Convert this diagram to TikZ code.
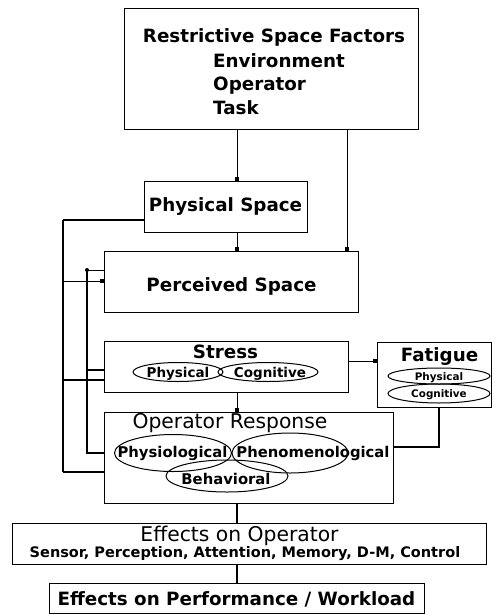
\documentclass[tikz,border=0pt]{standalone}
\usepackage{fontspec}
\setmainfont{DejaVu Sans}
\usetikzlibrary{arrows.meta,shapes.geometric}
\begin{document}
\begin{tikzpicture}[x=1pt,y=-1pt,
  box/.style={draw,line width=1pt,inner sep=0pt},
  ell/.style={draw,ellipse,line width=1pt,inner sep=0pt},
  lbl/.style={anchor=base,inner sep=0pt},
  lblw/.style={anchor=base west,inner sep=0pt},
  conn/.style={line width=1pt,-{Square[length=3.5pt,width=4pt]}},
  heavy/.style={line width=2.5pt},
  mid/.style={line width=1.8pt},
  fbig/.style={font=\fontsize{18.3}{20}\selectfont\bfseries},
  freg/.style={font=\fontsize{20.3}{22}\selectfont},
  fsub/.style={font=\fontsize{14.5}{16}\selectfont\bfseries},
  fell/.style={font=\fontsize{14.8}{16}\selectfont\bfseries},
  fsm/.style={font=\fontsize{10.4}{12}\selectfont\bfseries}]
\fill[white] (0,0) rectangle (492,614);
\useasboundingbox (0,0) rectangle (492,614);
% boxes
\node[box,minimum width=294pt,minimum height=121pt] (top) at (271,68.5) {};
\node[box,minimum width=163pt,minimum height=51pt] (phys) at (225.5,206.5) {};
\node[box,minimum width=254pt,minimum height=61pt] (perc) at (231,281.5) {};
\node[box,minimum width=244pt,minimum height=51pt] (stress) at (226,366.5) {};
\node[box,minimum width=114pt,minimum height=65pt] (fat) at (434,374.5) {};
\node[box,minimum width=289pt,minimum height=91pt] (opr) at (248.5,457.5) {};
\node[box,minimum width=474pt,minimum height=41pt] (eff) at (249,543.5) {};
\node[box,minimum width=375pt,minimum height=30pt] (perf) at (236.5,598) {};
% texts
\node[lbl,fbig] (t1) at (274,42) {Restrictive Space Factors};
\node[lblw,fbig] (t2) at (213,67) {Environment};
\node[lblw,fbig] (t3) at (213,90) {Operator};
\node[lblw,fbig] (t4) at (213,114) {Task};
\node[lbl,fbig] (t5) at (225.5,211) {Physical Space};
\node[lbl,fbig] (t6) at (231.5,291) {Perceived Space};
\node[lbl,fbig] (t7) at (225.5,358) {Stress};
\node[lbl,fbig] (t8) at (439.5,361) {Fatigue};
\node[lbl,freg] (t9) at (230,428) {Operator Response};
\node[lbl,freg] (t10) at (239.5,541) {Effects on Operator};
\node[lbl,fsub] (t11) at (245,557) {Sensor, Perception, Attention, Memory, D-M, Control};
\node[lbl,fbig] (t12) at (236.5,605) {Effects on Performance / Workload};
% stress ellipses
\node[ell,minimum width=90pt,minimum height=19pt] (sp) at (178,372) {};
\node[ell,minimum width=100pt,minimum height=19pt] (sc) at (268,372) {};
\node[lbl,font=\fontsize{13.5}{15}\selectfont\bfseries] (sp1) at (178,377) {Physical};
\node[lbl,font=\fontsize{13.5}{15}\selectfont\bfseries] (sc1) at (270,377) {Cognitive};
% fatigue ellipses
\node[ell,minimum width=102pt,minimum height=16pt] (fp) at (439,376) {};
\node[ell,minimum width=102pt,minimum height=19pt] (fc) at (439,393.5) {};
\node[lbl,fsm] (fp1) at (439,380.5) {Physical};
\node[lbl,fsm] (fc1) at (439,397) {Cognitive};
% operator response ellipses
\node[ell,minimum width=117pt,minimum height=37pt] (oe1) at (173,453) {};
\node[ell,minimum width=116pt,minimum height=40pt] (oe2) at (290,453) {};
\node[ell,minimum width=122pt,minimum height=32pt] (oe3) at (227,476) {};
\node[lbl,fell] (o1) at (172.5,457) {Physiological};
\node[lbl,fell] (o2) at (313,457) {Phenomenological};
\node[lbl,fell] (o3) at (226,484) {Behavioral};
% column coordinates
\coordinate (cA) at (237,0);
\coordinate (cB) at (347,0);
\coordinate (cL) at (63,0);
\coordinate (cM) at (87,0);
\coordinate (cF) at (439,0);
% connectors
\draw[conn] (cA |- top.south) -- (cA |- phys.north);
\draw[conn] (cA |- phys.south) -- (cA |- perc.north);
\draw[conn] (cB |- top.south) -- (cB |- perc.north);
\draw[heavy] (phys.west |- 0,220) -- (cL |- 0,220);
\draw[mid] (cL |- 0,220) -- (cL |- 0,472);
\draw[heavy] (cL |- 0,472) -- (opr.west |- 0,472);
\draw[conn] (cL |- 0,281) -- (perc.west |- 0,281);
\draw[line width=1.2pt] (cL |- 0,380) -- (stress.west |- 0,380);
\draw[line width=1pt] (perc.west |- 0,270) -- (cM |- 0,270);
\fill (cM |- 0,270) circle (2pt);
\draw[heavy] (cM |- 0,270) -- (cM |- 0,453) -- (opr.west |- 0,453);
\draw[heavy] (cM |- 0,370) -- (stress.west |- 0,370);
\draw[conn] (stress.east |- 0,361) -- (fat.west |- 0,361);
\draw[conn] (cA |- stress.south) -- (cA |- opr.north);
\draw[heavy] (cF |- fat.south) -- (cF |- 0,447) -- (opr.east |- 0,447);
\draw[heavy] (cA |- opr.south) -- (cA |- eff.north);
\draw[heavy] (cA |- eff.south) -- (cA |- perf.north);
\end{tikzpicture}
\end{document}
